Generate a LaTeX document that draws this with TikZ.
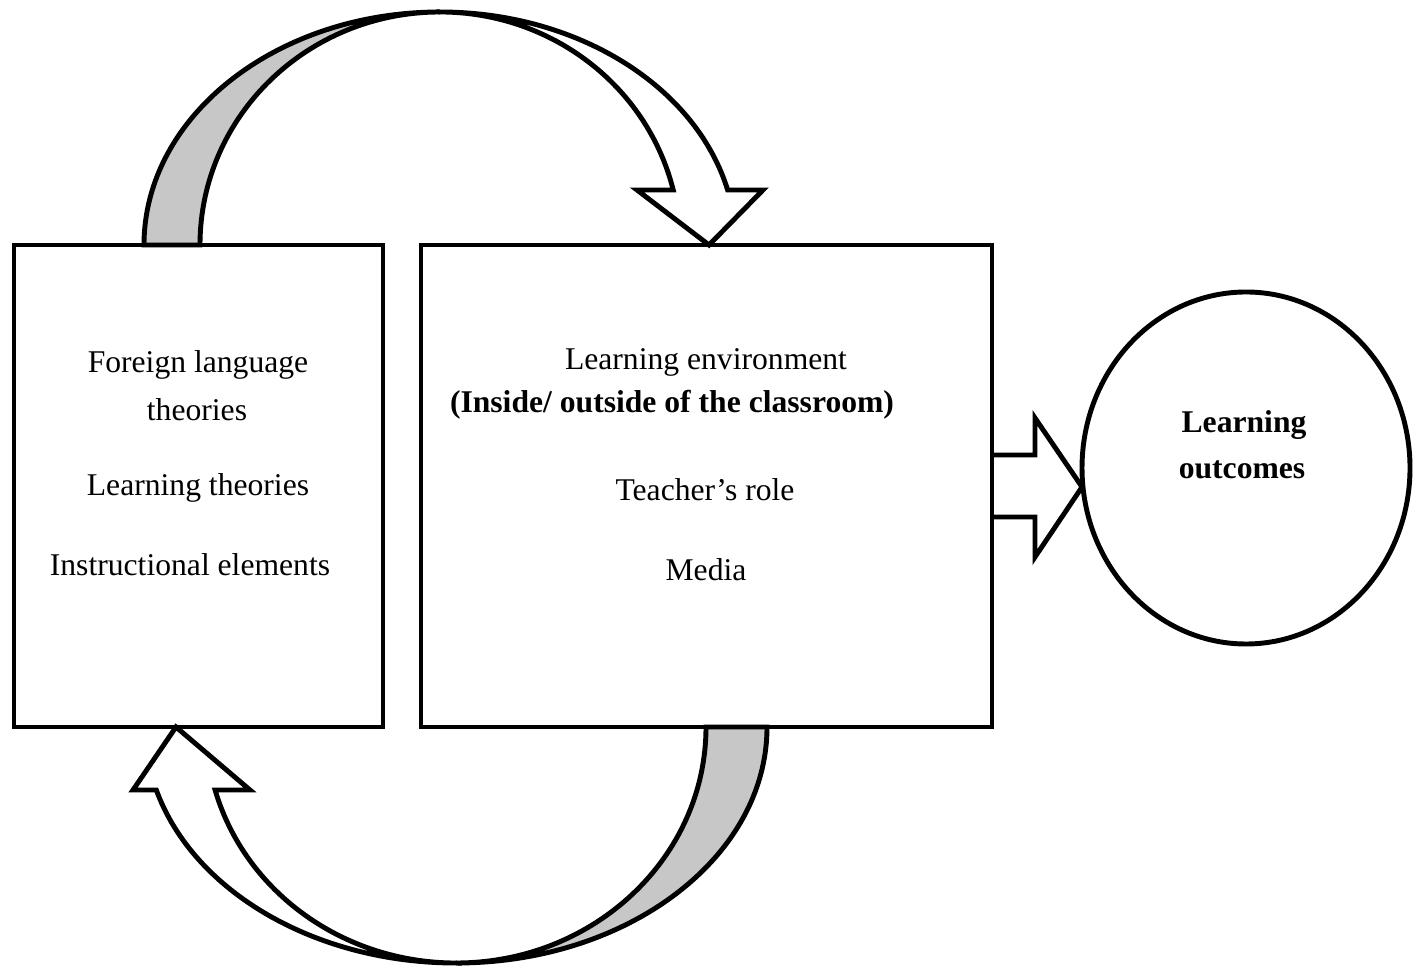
\documentclass[tikz,border=0pt]{standalone}
\usepackage{fontspec}
\setmainfont{Liberation Serif}
\usepackage{tikz}
\usetikzlibrary{shapes.geometric}

\begin{document}
\begin{tikzpicture}[line width=1.4pt,
  txt/.style={font=\fontsize{9}{11}\selectfont, inner sep=0pt},
  bx/.style={draw, rectangle, inner sep=0pt, minimum height=4.82cm}]
\useasboundingbox (0,0) rectangle (14.18,9.70);
\node[bx, minimum width=3.69cm] (theory) at (1.985,4.84) {};
\node[bx, minimum width=5.71cm] (env) at (7.065,4.84) {};
\node[draw, ellipse, inner sep=0pt, minimum width=3.28cm, minimum height=3.52cm] (outc) at (12.46,5.02) {};
\node[txt] (fl) at (1.98,6.05) {Foreign language};
\node[txt] (fltheo) at (1.97,5.60) {theories};
\node[txt] (lt) at (1.98,4.82) {Learning theories};
\node[txt] (ie) at (1.90,4.05) {Instructional elements};
\node[txt] (le) at (7.06,6.08) {Learning environment};
\node[txt, font=\fontsize{9}{11}\selectfont\bfseries] (io) at (6.72,5.65) {(Inside/ outside of the classroom)};
\node[txt] (tr) at (7.05,4.80) {Teacher’s role};
\node[txt] (md) at (7.06,4.00) {Media};
\node[txt, font=\fontsize{9}{11}\selectfont\bfseries] (lo1) at (12.44,5.45) {Learning};
\node[txt, font=\fontsize{9}{11}\selectfont\bfseries] (lo2) at (12.42,5.00) {outcomes};
% upper curved arrow
\filldraw[fill=black!22] (1.44,7.25) arc[start angle=180, end angle=90, x radius=2.96, y radius=2.33]
  arc[start angle=90, end angle=180, x radius=2.40, y radius=2.33] -- cycle;
\filldraw[fill=white] (4.40,9.58) arc[start angle=90, end angle=13.65, x radius=2.96, y radius=2.33]
  -- (7.63,7.80) -- (7.09,7.25) -- (6.37,7.80) -- (6.732,7.80)
  arc[start angle=13.65, end angle=90, x radius=2.40, y radius=2.33] -- cycle;
% lower curved arrow
\filldraw[fill=black!22] (7.67,2.43) arc[start angle=0, end angle=-90, x radius=3.11, y radius=2.36]
  arc[start angle=-90, end angle=0, x radius=2.50, y radius=2.36] -- cycle;
\filldraw[fill=white] (4.56,0.07) arc[start angle=270, end angle=195.48, x radius=3.11, y radius=2.36]
  -- (1.33,1.80) -- (1.76,2.43) -- (2.50,1.80) -- (2.151,1.80)
  arc[start angle=195.48, end angle=270, x radius=2.50, y radius=2.36] -- cycle;
% arrow to the circle
\draw (9.92,5.15) -- (10.35,5.15) -- (10.35,5.52) -- (10.82,4.83) -- (10.35,4.13) -- (10.35,4.53) -- (9.92,4.53);
\end{tikzpicture}
\end{document}
